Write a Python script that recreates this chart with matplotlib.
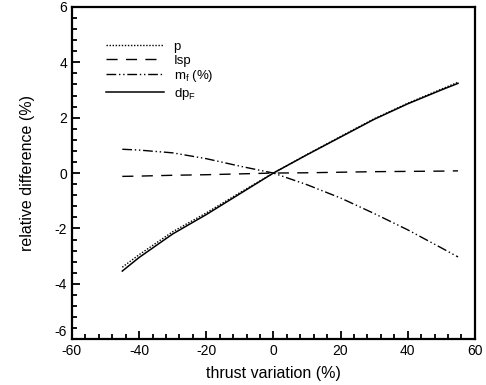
import matplotlib
matplotlib.use("Agg")
import matplotlib.pyplot as plt
from matplotlib.ticker import MultipleLocator

plt.rcParams['font.family'] = ['Liberation Sans', 'DejaVu Sans']
plt.rcParams['axes.unicode_minus'] = False

thrust = [-45, -40, -30, -20, -10, 0, 10, 20, 30, 40, 50, 55]
p_vals = [-3.40, -2.95, -2.12, -1.44, -0.71, 0.0, 0.67, 1.32, 1.96, 2.52, 3.03, 3.28]
isp_vals = [-0.12, -0.11, -0.08, -0.06, -0.03, 0.0, 0.01, 0.03, 0.05, 0.06, 0.07, 0.08]
mf_vals = [0.86, 0.83, 0.73, 0.52, 0.25, 0.0, -0.42, -0.90, -1.46, -2.05, -2.70, -3.03]
dpf_vals = [-3.54, -3.05, -2.20, -1.50, -0.75, 0.0, 0.66, 1.30, 1.94, 2.50, 3.00, 3.24]

labels = ['p', 'Isp', r'm$_\mathregular{f}$ (%)', r'dp$_\mathregular{F}$']

fig = plt.figure(figsize=(4.86, 3.85), dpi=100)
ax = fig.add_axes([0.148, 0.119, 0.829, 0.863])

ax.plot(thrust, p_vals, color='black', lw=1.0, linestyle=(0, (1, 1.2)), label=labels[0])
ax.plot(thrust, isp_vals, color='black', lw=1.0, linestyle=(0, (8, 6)), label=labels[1])
ax.plot(thrust, mf_vals, color='black', lw=1.0, linestyle=(0, (7, 2, 1, 2, 1, 2)), label=labels[2])
ax.plot(thrust, dpf_vals, color='black', lw=1.1, linestyle='-', label=labels[3])

ax.set_xlim(-60, 60)
ax.set_ylim(-6, 6)
ax.xaxis.set_major_locator(MultipleLocator(20))
ax.xaxis.set_minor_locator(MultipleLocator(4))
ax.yaxis.set_major_locator(MultipleLocator(2))
ax.yaxis.set_minor_locator(MultipleLocator(0.4))
ax.tick_params(which='both', direction='in', top=False, right=False, labelsize=10, width=1.3)
ax.tick_params(which='major', length=6)
ax.tick_params(which='minor', length=3.5)
for s in ax.spines.values():
    s.set_linewidth(1.6)

ax.set_xlabel('thrust variation (%)', fontsize=11.5, labelpad=6)
ax.set_ylabel('relative difference (%)', fontsize=11.5, labelpad=14)

leg = ax.legend(loc='upper left', bbox_to_anchor=(0.072, 0.915), frameon=False,
                fontsize=9.5, handlelength=4.4, handletextpad=0.7, labelspacing=0.12,
                borderaxespad=0)

fig.canvas.draw()
for t in ax.yaxis.get_major_ticks():
    if abs(t.get_loc() + 6) < 1e-9:
        t.label1.set_verticalalignment('bottom')

fig.savefig('out.png', dpi=100)
